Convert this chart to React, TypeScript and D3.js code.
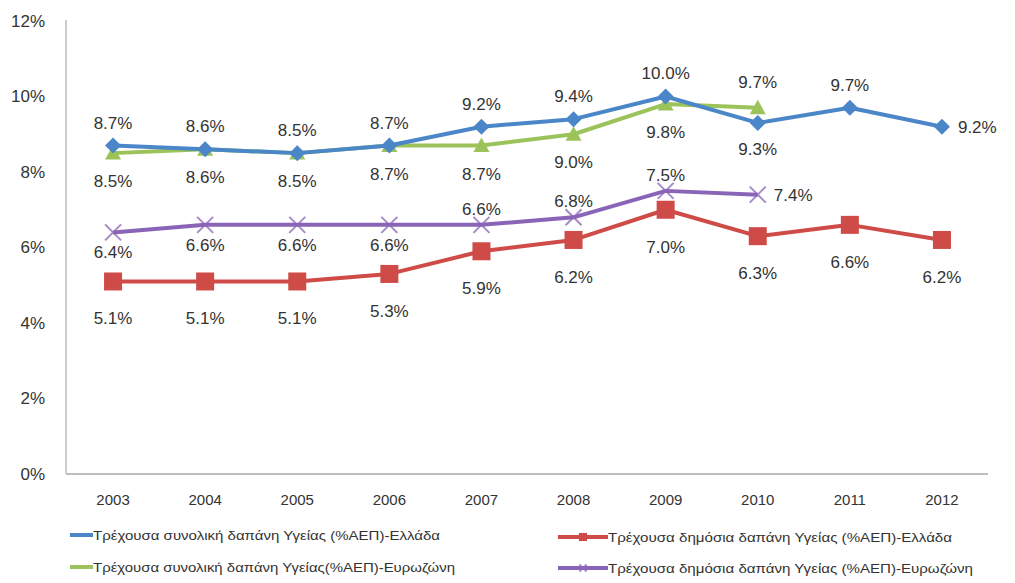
import React from "react";
import * as d3 from "d3";

const years = ["2003", "2004", "2005", "2006", "2007", "2008", "2009", "2010", "2011", "2012"];
const totalGreece = [8.7, 8.6, 8.5, 8.7, 9.2, 9.4, 10.0, 9.3, 9.7, 9.2];
const publicGreece = [5.1, 5.1, 5.1, 5.3, 5.9, 6.2, 7.0, 6.3, 6.6, 6.2];
const totalEuro = [8.5, 8.6, 8.5, 8.7, 8.7, 9.0, 9.8, 9.7];
const publicEuro = [6.4, 6.6, 6.6, 6.6, 6.6, 6.8, 7.5, 7.4];
const yTicks = [0, 2, 4, 6, 8, 10, 12];

// label placement per point: "a" above, "b" below, "r" right
const posTotalGreece = ["a", "a", "a", "a", "a", "a", "a", "b", "a", "r"];
const posPublicGreece = ["b", "b", "b", "b", "b", "b", "b", "b", "b", "b"];
const posTotalEuro = ["b", "b", "b", "b", "b", "b", "b", "a"];
const posPublicEuro = ["b", "b", "b", "b", "a", "a", "a", "r"];

const legendNames = [
  "Τρέχουσα συνολική δαπάνη Υγείας (%ΑΕΠ)-Ελλάδα",
  "Τρέχουσα δημόσια δαπάνη Υγείας (%ΑΕΠ)-Ελλάδα",
  "Τρέχουσα συνολική δαπάνη Υγείας(%ΑΕΠ)-Ευρωζώνη",
  "Τρέχουσα δημόσια δαπάνη Υγείας (%ΑΕΠ)-Ευρωζώνη",
];

const W = 1015;
const H = 583;
const font = "'Liberation Sans', Arial, sans-serif";

export default function App() {
  const x = d3.scaleBand<string>().domain(years).range([67, 988]);
  const y = d3.scaleLinear().domain([0, 12]).range([474, 21]);
  const cx = (i: number) => (x(years[i]) as number) + x.bandwidth() / 2;

  const series = [
    { vals: totalGreece, pos: posTotalGreece, color: "#4A86C8", marker: "diamond", above: 23, below: 26 },
    { vals: publicGreece, pos: posPublicGreece, color: "#CF4B47", marker: "square", above: 23, below: 37 },
    { vals: totalEuro, pos: posTotalEuro, color: "#9CC25A", marker: "triangle", above: 26, below: 28 },
    { vals: publicEuro, pos: posPublicEuro, color: "#8A64B6", marker: "x", above: 16, below: 20 },
  ];
  const drawOrder = [1, 3, 2, 0];

  const line = d3
    .line<number>()
    .x((_, i) => cx(i))
    .y((d) => y(d));

  const marker = (kind: string, px: number, py: number, color: string, key: string, sc = 1) => {
    if (kind === "diamond") {
      const s = 8 * sc;
      return <path key={key} d={`M${px},${py - s}L${px + s},${py}L${px},${py + s}L${px - s},${py}Z`} fill={color} />;
    }
    if (kind === "square") {
      const s = 9 * sc;
      return <rect key={key} x={px - s} y={py - s} width={2 * s} height={2 * s} fill={color} />;
    }
    if (kind === "triangle") {
      const s = 8 * sc;
      return <path key={key} d={`M${px},${py - s}L${px + s},${py + s * 0.8}L${px - s},${py + s * 0.8}Z`} fill={color} />;
    }
    const s = 8 * sc;
    return (
      <path
        key={key}
        d={`M${px - s},${py - s}L${px + s},${py + s}M${px - s},${py + s}L${px + s},${py - s}`}
        stroke={color}
        strokeWidth={2}
        opacity={0.75}
      />
    );
  };

  const legendItems = [
    { lx: 93, ly: 535, name: legendNames[0], s: 0, len: 347, lineFrom: 70 },
    { lx: 608, ly: 537, name: legendNames[1], s: 1, len: 344, lineFrom: 558 },
    { lx: 93, ly: 567, name: legendNames[2], s: 2, len: 362, lineFrom: 70 },
    { lx: 608, ly: 568, name: legendNames[3], s: 3, len: 365, lineFrom: 558 },
  ];

  return (
    <svg width={W} height={H} style={{ position: "absolute", left: 0, top: 0, background: "#fff" }}>
      <rect width={W} height={H} fill="#fff" />
      {/* axes */}
      <line x1={66} x2={66} y1={20} y2={474} stroke="#BDBDBD" strokeWidth={1.5} />
      <line x1={66} x2={988} y1={474} y2={474} stroke="#BDBDBD" strokeWidth={2} />
      {yTicks.map((t) => (
        <text key={t} x={45} y={y(t)} dy="0.35em" textAnchor="end" fontFamily={font} fontSize={17} fill="#333">
          {t}%
        </text>
      ))}
      {years.map((yr, i) => (
        <text key={yr} x={cx(i)} y={500} dy="0.35em" textAnchor="middle" fontFamily={font} fontSize={15} fill="#333">
          {yr}
        </text>
      ))}
      {drawOrder.map((si) => {
        const s = series[si];
        return (
          <g key={si}>
            <path d={line(s.vals) as string} fill="none" stroke={s.color} strokeWidth={4} strokeLinejoin="round" />
            {s.vals.map((v, i) => marker(s.marker, cx(i), y(v), s.color, `m${si}-${i}`))}
          </g>
        );
      })}
      {series.map((s, si) =>
        s.vals.map((v, i) => {
          const p = s.pos[i];
          let tx = cx(i);
          let ty = y(v);
          let anchor = "middle";
          if (p === "a") ty -= s.above;
          else if (p === "b") ty += s.below;
          else {
            tx += 16;
            anchor = "start";
          }
          return (
            <text
              key={`l${si}-${i}`}
              x={tx}
              y={ty}
              dy="0.35em"
              textAnchor={anchor}
              fontFamily={font}
              fontSize={17}
              fill="#333"
            >
              {v.toFixed(1)}%
            </text>
          );
        })
      )}
      {legendItems.map((it) => {
        const s = series[it.s];
        return (
          <g key={it.name}>
            <line x1={it.lineFrom} x2={it.lx} y1={it.ly} y2={it.ly} stroke={s.color} strokeWidth={4} />
            {it.s === 1 || it.s === 3
              ? marker(s.marker, (it.lineFrom + it.lx) / 2, it.ly, s.color, "lm" + it.s, 0.45)
              : null}
            <text
              x={it.lx}
              y={it.ly}
              dy="0.35em"
              fontFamily={font}
              fontSize={13}
              fill="#333"
              textLength={it.len}
              lengthAdjust="spacingAndGlyphs"
            >
              {it.name}
            </text>
          </g>
        );
      })}
    </svg>
  );
}
